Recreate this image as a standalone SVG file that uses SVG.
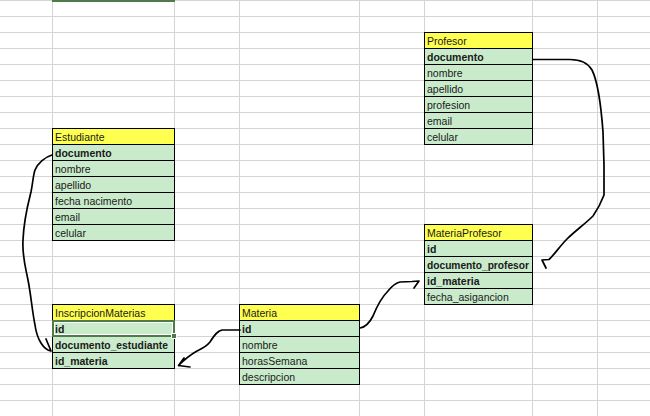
<svg xmlns="http://www.w3.org/2000/svg" width="650" height="416" viewBox="0 0 650 416">
<style>
.grid line{stroke:#d4d4d4;stroke-width:1}
.hd{fill:#ffff4f;stroke:#000;stroke-width:1}
.cl{fill:#c9ebcb;stroke:#000;stroke-width:1}
text{font-family:"Liberation Sans",Arial,sans-serif;font-size:10.5px;fill:#1a1a1a}
.b{font-weight:bold}
.conn path{fill:none;stroke:#000;stroke-width:1.7;stroke-linecap:round;stroke-linejoin:round}
</style>
<rect width="650" height="416" fill="#fff"/>
<g class="grid">
<line x1="52.5" y1="0" x2="52.5" y2="416"/>
<line x1="174.5" y1="0" x2="174.5" y2="416"/>
<line x1="239.5" y1="0" x2="239.5" y2="416"/>
<line x1="359.5" y1="0" x2="359.5" y2="416"/>
<line x1="424.5" y1="0" x2="424.5" y2="416"/>
<line x1="532.5" y1="0" x2="532.5" y2="416"/>
<line x1="597.5" y1="0" x2="597.5" y2="416"/>
<line x1="0" y1="0.5" x2="650" y2="0.5"/>
<line x1="0" y1="16.5" x2="650" y2="16.5"/>
<line x1="0" y1="32.5" x2="650" y2="32.5"/>
<line x1="0" y1="48.5" x2="650" y2="48.5"/>
<line x1="0" y1="64.5" x2="650" y2="64.5"/>
<line x1="0" y1="80.5" x2="650" y2="80.5"/>
<line x1="0" y1="96.5" x2="650" y2="96.5"/>
<line x1="0" y1="112.5" x2="650" y2="112.5"/>
<line x1="0" y1="128.5" x2="650" y2="128.5"/>
<line x1="0" y1="144.5" x2="650" y2="144.5"/>
<line x1="0" y1="160.5" x2="650" y2="160.5"/>
<line x1="0" y1="176.5" x2="650" y2="176.5"/>
<line x1="0" y1="192.5" x2="650" y2="192.5"/>
<line x1="0" y1="208.5" x2="650" y2="208.5"/>
<line x1="0" y1="224.5" x2="650" y2="224.5"/>
<line x1="0" y1="240.5" x2="650" y2="240.5"/>
<line x1="0" y1="256.5" x2="650" y2="256.5"/>
<line x1="0" y1="272.5" x2="650" y2="272.5"/>
<line x1="0" y1="288.5" x2="650" y2="288.5"/>
<line x1="0" y1="304.5" x2="650" y2="304.5"/>
<line x1="0" y1="320.5" x2="650" y2="320.5"/>
<line x1="0" y1="336.5" x2="650" y2="336.5"/>
<line x1="0" y1="352.5" x2="650" y2="352.5"/>
<line x1="0" y1="368.5" x2="650" y2="368.5"/>
<line x1="0" y1="384.5" x2="650" y2="384.5"/>
<line x1="0" y1="400.5" x2="650" y2="400.5"/>
</g>
<line x1="52" y1="1" x2="175" y2="1" stroke="#4f7b4a" stroke-width="2"/>

<g id="profesor">
<rect class="hd" x="424.5" y="32.5" width="108" height="16"/>
<rect class="cl" x="424.5" y="48.5" width="108" height="16"/>
<rect class="cl" x="424.5" y="64.5" width="108" height="16"/>
<rect class="cl" x="424.5" y="80.5" width="108" height="16"/>
<rect class="cl" x="424.5" y="96.5" width="108" height="16"/>
<rect class="cl" x="424.5" y="112.5" width="108" height="16"/>
<rect class="cl" x="424.5" y="128.5" width="108" height="16"/>
<text x="427" y="44.5">Profesor</text>
<text x="427" y="60.5" class="b">documento</text>
<text x="427" y="76.5">nombre</text>
<text x="427" y="92.5">apellido</text>
<text x="427" y="108.5">profesion</text>
<text x="427" y="124.5">email</text>
<text x="427" y="140.5">celular</text>
</g>

<g id="estudiante">
<rect class="hd" x="52.5" y="128.5" width="122" height="16"/>
<rect class="cl" x="52.5" y="144.5" width="122" height="16"/>
<rect class="cl" x="52.5" y="160.5" width="122" height="16"/>
<rect class="cl" x="52.5" y="176.5" width="122" height="16"/>
<rect class="cl" x="52.5" y="192.5" width="122" height="16"/>
<rect class="cl" x="52.5" y="208.5" width="122" height="16"/>
<rect class="cl" x="52.5" y="224.5" width="122" height="16"/>
<text x="55" y="140.5">Estudiante</text>
<text x="55" y="156.5" class="b">documento</text>
<text x="55" y="172.5">nombre</text>
<text x="55" y="188.5">apellido</text>
<text x="55" y="204.5">fecha nacimento</text>
<text x="55" y="220.5">email</text>
<text x="55" y="236.5">celular</text>
</g>

<g id="materiaprofesor">
<rect class="hd" x="424.5" y="224.5" width="108" height="16"/>
<rect class="cl" x="424.5" y="240.5" width="108" height="16"/>
<rect class="cl" x="424.5" y="256.5" width="108" height="16"/>
<rect class="cl" x="424.5" y="272.5" width="108" height="16"/>
<rect class="cl" x="424.5" y="288.5" width="108" height="16"/>
<text x="427" y="236.5">MateriaProfesor</text>
<text x="427" y="252.5" class="b">id</text>
<text x="427" y="268.5" class="b" textLength="102" lengthAdjust="spacingAndGlyphs">documento_profesor</text>
<text x="427" y="284.5" class="b">id_materia</text>
<text x="427" y="300.5">fecha_asigancion</text>
</g>

<g id="inscripcionmaterias">
<rect class="hd" x="52.5" y="304.5" width="122" height="16"/>
<rect class="cl" x="52.5" y="320.5" width="122" height="16"/>
<rect class="cl" x="52.5" y="336.5" width="122" height="16"/>
<rect class="cl" x="52.5" y="352.5" width="122" height="16"/>
<rect x="53" y="321" width="121" height="15" fill="none" stroke="#4f7b4a" stroke-width="2"/>
<rect x="54.5" y="322.5" width="118" height="12" fill="none" stroke="#fff" stroke-width="1"/>
<rect x="171.5" y="333.5" width="5" height="5" fill="#4f7b4a" stroke="#fff" stroke-width="1"/>
<text x="55" y="316.5">InscripcionMaterias</text>
<text x="55" y="332.5" class="b">id</text>
<text x="55" y="348.5" class="b" textLength="113" lengthAdjust="spacingAndGlyphs">documento_estudiante</text>
<text x="55" y="364.5" class="b">id_materia</text>
</g>

<g id="materia">
<rect class="hd" x="239.5" y="304.5" width="120" height="16"/>
<rect class="cl" x="239.5" y="320.5" width="120" height="16"/>
<rect class="cl" x="239.5" y="336.5" width="120" height="16"/>
<rect class="cl" x="239.5" y="352.5" width="120" height="16"/>
<rect class="cl" x="239.5" y="368.5" width="120" height="16"/>
<text x="242" y="316.5">Materia</text>
<text x="242" y="332.5" class="b">id</text>
<text x="242" y="348.5">nombre</text>
<text x="242" y="364.5">horasSemana</text>
<text x="242" y="380.5">descripcion</text>
</g>

<g class="conn" id="connectors">
<path d="M533,59.5 L570,59.5 C580,59.5 588,63 592,70 C598,82 601,105 603,132 L604,165 L604,195 C601,203 598,209 593,216 C585,224 575,231 567,239 C560,246 554,255 549,259.5 L542,260 L546,268"/>
<path d="M52,155 C45,157 38,163 35,170 C33,176 33,182 31,192 C28,204 24,218 23,240 C22,255 25,265 28,280 C31,295 32,310 35,325 C37,340 44,350 51,351 M46,339 L51,351"/>
<path d="M240,330 L222,330 C217,331 214,336 210,342 C206,347 201,349 197,351 C190,355 184,360 178.5,365.5 M184,358 L178.5,365.5 L190,367"/>
<path d="M360,328 C366,327 370,322 373,316 C377,306 381,298 388,291 C392,286 395,283 400,282 L412,281.5 L419,281 L414,288"/>
</g>
</svg>
